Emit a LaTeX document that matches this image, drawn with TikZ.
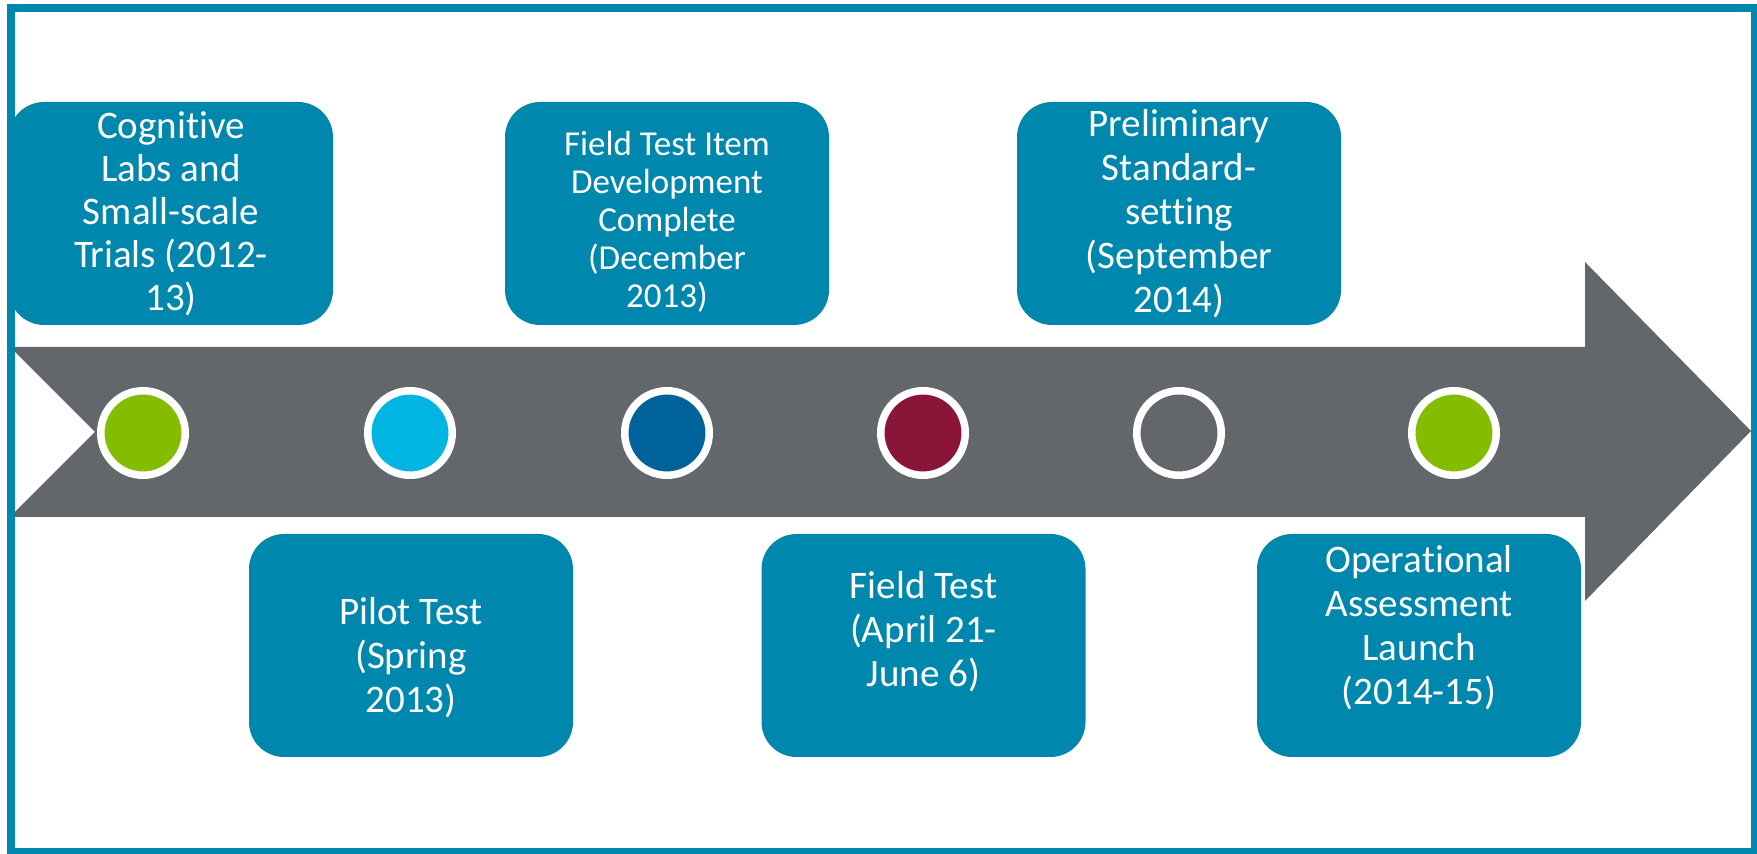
\documentclass[tikz,border=0pt]{standalone}
\usepackage{fontspec}
\setmainfont{Carlito}[Ligatures=NoCommon]
\definecolor{boxblue}{HTML}{0087AD}
\definecolor{arrowgrey}{HTML}{63666A}
\definecolor{dotgreen}{HTML}{84BD00}
\definecolor{dotcyan}{HTML}{00B5E2}
\definecolor{dotnavy}{HTML}{00629B}
\definecolor{dotwine}{HTML}{8A1538}

\begin{document}
\begin{tikzpicture}[x=0.5pt,y=-0.5pt,
    stage/.style={fill=boxblue,rounded corners=17.5pt,minimum width=162pt,minimum height=111.5pt,inner sep=0pt},
    caption/.style={text=white,inner sep=0pt,align=center,font=\fontsize{19.5}{22}\selectfont},
    dot/.style={circle,draw=white,line width=3.75pt,minimum size=42.25pt,inner sep=0pt}]
    \useasboundingbox (0,0) rectangle (1757,854);
    \fill[arrowgrey] (10,347) -- (1585,347) -- (1585,262) -- (1751,431) -- (1585,601)
        -- (1585,517) -- (10,517) -- (95,432) -- cycle;
    \node[dot,fill=dotgreen] (d1) at (143,433) {};
    \node[dot,fill=dotcyan] (d2) at (410,433) {};
    \node[dot,fill=dotnavy] (d3) at (667,433) {};
    \node[dot,fill=dotwine] (d4) at (923,433) {};
    \node[dot,fill=arrowgrey] (d5) at (1179,433) {};
    \node[dot,fill=dotgreen] (d6) at (1454,433) {};
    \node[stage] (labs) at (171,213.5) {};
    \node[stage] (items) at (667,213.5) {};
    \node[stage] (setting) at (1179,213.5) {};
    \node[stage] (pilot) at (411,645.5) {};
    \node[stage] (field) at (923.5,645.5) {};
    \node[stage] (launch) at (1419,645.5) {};
    \node[caption,font=\fontsize{19.5}{21.5}\selectfont] (labstext) at (labs) {Cognitive\\Labs and\\Small-scale\\Trials (2012-\\13)};
    \node[caption,font=\fontsize{17.5}{19}\selectfont] (itemstext) at ([yshift=-4pt]items.center) {Field Test Item\\Development\\Complete\\(December\\2013)};
    \node[caption] (settingtext) at (setting) {Preliminary\\Standard-\\setting\\(September\\2014)};
    \node[caption] (pilottext) at ([yshift=-6pt]pilot.center) {Pilot Test\\(Spring\\2013)};
    \node[caption] (fieldtext) at ([yshift=7pt]field.center) {Field Test\\(April 21-\\June 6)};
    \node[caption] (launchtext) at ([yshift=9pt]launch.center) {Operational\\Assessment\\Launch\\(2014-15)};
    \draw[boxblue,line width=4pt] (11,8) rectangle (1755,852);
\end{tikzpicture}
\end{document}
